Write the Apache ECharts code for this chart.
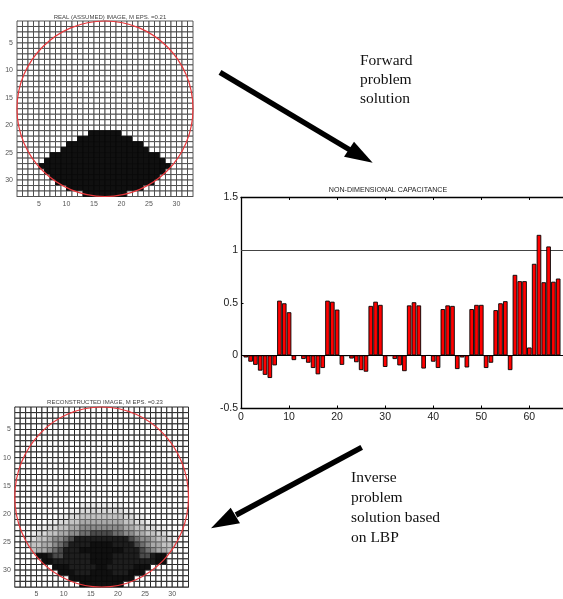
<!DOCTYPE html>
<html>
<head>
<meta charset="utf-8">
<style>
html,body{margin:0;padding:0;background:#fff;width:563px;height:599px;overflow:hidden}
.c{position:absolute;left:0;top:0;width:563px;height:599px}
#realImg{filter:blur(0.75px)}
#reconImg{filter:blur(0.7px)}
#main{filter:blur(0.3px)}
</style>
<script src="https://cdn.jsdelivr.net/npm/echarts@6/dist/echarts.min.js"></script>
</head>
<body>
<div id="main" class="c"></div>
<div id="realImg" class="c"></div>
<div id="reconImg" class="c"></div>
<script>
// bar chart
const capacitanceValues = [
 -0.02,-0.06,-0.09,-0.145,-0.185,-0.215,-0.095,0.52,0.495,0.41,
 -0.045,-0.003,-0.035,-0.07,-0.12,-0.18,-0.12,0.52,0.51,0.435,
 -0.09,-0.005,-0.03,-0.065,-0.14,-0.155,0.47,0.51,0.48,-0.11,
 -0.005,-0.035,-0.095,-0.15,0.475,0.505,0.475,-0.125,-0.002,-0.06,
 -0.12,0.44,0.475,0.47,-0.13,-0.02,-0.115,0.44,0.48,0.48,
 -0.12,-0.07,0.43,0.495,0.515,-0.14,0.765,0.705,0.705,0.075,
 0.87,1.145,0.695,1.035,0.70,0.73];
const referenceLevels = [0, 1];
const barTitle = 'NON-DIMENSIONAL CAPACITANCE';
// real image: rows of black cells
const realTitle = 'REAL (ASSUMED) IMAGE, M EPS. =0.21';
const realFirstRow = 21;
const realBlackStart = [13,11,9,8,6,5,4,5,6,7,9,12];
const realBlackEnd   = [19,21,23,24,26,27,28,27,26,25,23,20];
// reconstructed image: grey level 0 (white) to 9 (black), rows 18..32
const reconTitle = 'RECONSTRUCTED IMAGE, M EPS. =0.23';
const reconFirstRow = 18;
const reconRows = [
 '00000000000011111111000000000000',
 '00000000001122222222110000000000',
 '00000000112233333333221100000000',
 '00000011223344444444332211000000',
 '00001122334455555555443322110000',
 '00012233445566777766554433221000',
 '00123345567888888888876554332100',
 '00233445678888999988887654433200',
 '00034456788899999999888765443000',
 '00009987788888999988888778990000',
 '00000998888888999988888888990000',
 '00000009998888899888889990000000',
 '00000000999888999988899900000000',
 '00000000009999999999990000000000',
 '00000000000099999999000000000000'];
const imageTicks = [5,10,15,20,25,30];
const cellsPerSide = 32;
const circleData = [[17,17,16]];
const greyRamp = [255,238,218,195,170,140,110,75,30,16];

const sans = '"Liberation Sans",Arial,sans-serif';
const serif = '"Liberation Serif","Times New Roman",serif';

function realCells(){
  const out=[];
  for(let r=0;r<cellsPerSide;r++)for(let c=0;c<cellsPerSide;c++){
    const i=r+1-realFirstRow;
    const on=i>=0&&c>=realBlackStart[i]&&c<realBlackEnd[i];
    out.push([c+1,r+1,on?9:0]);
  }
  return out;
}
function reconCells(){
  const out=[];
  for(let r=0;r<cellsPerSide;r++)for(let c=0;c<cellsPerSide;c++){
    const row=reconRows[r+1-reconFirstRow];
    out.push([c+1,r+1,row?Number(row[c]):0]);
  }
  return out;
}
function imageOption(title,titleX,titleY,box,cells,lineGrey,lineWidth){
  const axis=(extra)=>Object.assign({
    type:'value',min:1,max:33,splitLine:{show:false},
    axisLine:{show:true,lineStyle:{color:'#888',width:1}},
    axisTick:{show:true,inside:true,length:2,customValues:imageTicks,lineStyle:{color:'#888'}},
    axisLabel:{customValues:imageTicks,fontSize:7,color:'#555',fontFamily:sans,margin:4}
  },extra);
  return {
    animation:false,
    title:{text:title,left:titleX,top:titleY,textAlign:'center',
      textStyle:{fontSize:6,fontWeight:'normal',color:'#444',fontFamily:sans}},
    grid:Object.assign({containLabel:false},box),
    xAxis:axis({}),
    yAxis:axis({inverse:true}),
    series:[
      {type:'custom',coordinateSystem:'cartesian2d',z:2,silent:true,
       encode:{x:0,y:1},data:cells,
       renderItem(p,api){
         const a=api.coord([api.value(0),api.value(1)]);
         const b=api.coord([api.value(0)+1,api.value(1)+1]);
         const g=greyRamp[api.value(2)];
         const s=g>=215?lineGrey:Math.round(g*0.6);
         return {type:'rect',shape:{x:a[0],y:a[1],width:b[0]-a[0],height:b[1]-a[1]},
           style:{fill:'rgb('+g+','+g+','+g+')',stroke:'rgb('+s+','+s+','+s+')',lineWidth:lineWidth}};
       }},
      {type:'custom',coordinateSystem:'cartesian2d',z:3,silent:true,clip:false,
       encode:{x:0,y:1},data:circleData,
       renderItem(p,api){
         const c=api.coord([api.value(0),api.value(1)]);
         const s=api.size([api.value(2),api.value(2)]);
         return {type:'ellipse',shape:{cx:c[0],cy:c[1],rx:s[0],ry:s[1]},
           style:{fill:null,stroke:'#e8383c',lineWidth:1.2}};
       }}
    ]
  };
}

echarts.init(document.getElementById('realImg')).setOption(
  imageOption(realTitle,105,9,{left:17,top:21,width:176,height:175.5},realCells(),70,0.9));
echarts.init(document.getElementById('reconImg')).setOption(
  imageOption(reconTitle,100,394,{left:13,top:407,width:175.5,height:180},reconCells(),40,1));

const txt=(s,x,y)=>({type:'text',left:x,top:y,style:{text:s,font:'15.5px '+serif,fill:'#111'}});
const arrow=(x0,y0,x1,y1,tip,p,q)=>[
  {type:'line',shape:{x1:x0,y1:y0,x2:x1,y2:y1},style:{stroke:'#000',lineWidth:5.5}},
  {type:'polygon',shape:{points:[tip,p,q]},style:{fill:'#000'}}
];

echarts.init(document.getElementById('main')).setOption({
  animation:false,
  backgroundColor:'#fff',
  title:{text:barTitle,left:383,top:182,textAlign:'center',
    textStyle:{fontSize:7.1,fontWeight:'normal',color:'#222',fontFamily:sans}},
  grid:{left:241,top:197.5,width:323,height:210.5,show:false},
  xAxis:[
    {type:'value',min:0,max:67,interval:10,position:'bottom',splitLine:{show:false},
     axisLine:{onZero:false,lineStyle:{color:'#000',width:1.3}},
     axisTick:{inside:true,length:2.5,lineStyle:{color:'#000'}},
     axisLabel:{fontSize:10.5,color:'#222',fontFamily:sans,margin:4,showMaxLabel:false}},
    {type:'value',min:0,max:67,interval:10,position:'top',splitLine:{show:false},
     axisLine:{onZero:false,lineStyle:{color:'#000',width:1.3}},
     axisTick:{inside:true,length:2.5,lineStyle:{color:'#000'}},
     axisLabel:{show:false}}
  ],
  yAxis:[
    {type:'value',min:-0.5,max:1.5,interval:0.5,position:'left',splitLine:{show:false},
     axisLine:{onZero:false,lineStyle:{color:'#000',width:1.3}},
     axisTick:{inside:true,length:2.5,lineStyle:{color:'#000'}},
     axisLabel:{fontSize:10.5,color:'#222',fontFamily:sans,margin:3,
       formatter:(v)=>String(v)}}
  ],
  series:[{
    type:'bar',xAxisIndex:0,yAxisIndex:0,z:3,silent:true,
    barWidth:4.6,
    data:capacitanceValues.map((v,i)=>[i+1,v]),
    itemStyle:{color:'#ff0000',borderColor:'#000',borderWidth:0.9},
    markLine:{silent:true,symbol:'none',z:1,label:{show:false},
      data:[
        {yAxis:referenceLevels[0],lineStyle:{color:'#000',width:1,type:'solid'}},
        {yAxis:referenceLevels[1],lineStyle:{color:'#444',width:1.2,type:'solid'}}
      ]}
  }],
  graphic:[
    txt('Forward',360,53),txt('problem',360,72),txt('solution',360,91),
    txt('Inverse',351,470),txt('problem',351,490),txt('solution based',351,510),txt('on LBP',351,530),
    ...arrow(220,72.3,350,150,[372.7,162.7],[354,141.7],[344,156.7]),
    ...arrow(361.7,447.3,236,515,[211,528.3],[230.7,507.7],[240,523.3])
  ]
});
</script>
</body>
</html>
